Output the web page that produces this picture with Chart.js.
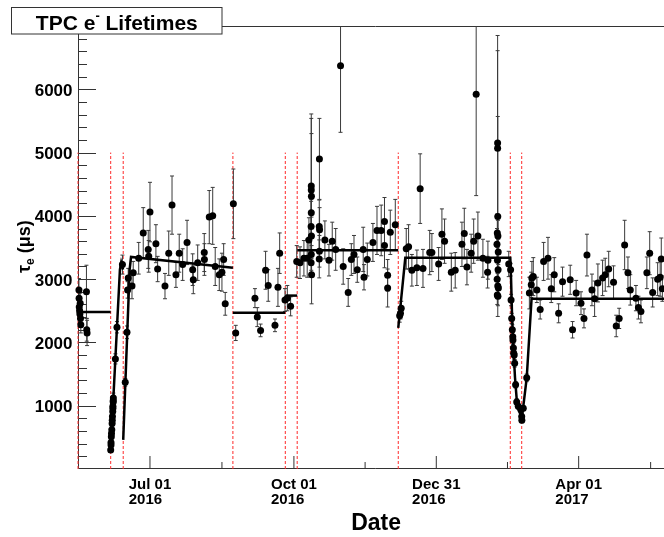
<!DOCTYPE html>
<html>
<head>
<meta charset="utf-8">
<title>TPC electron lifetimes</title>
<script src="https://cdn.jsdelivr.net/npm/chart.js@4.4.1/dist/chart.umd.min.js"></script>
<style>
  html, body { margin: 0; padding: 0; background: #fff; overflow: hidden; }
  #wrap { width: 664px; height: 537px; overflow: hidden; }
  #wrap canvas { display: block; }
</style>
</head>
<body>
<div id="wrap"><canvas id="lifetimeChart" width="700" height="537"></canvas></div>
<script>
// x values are days counted from Jul 01 2016
const tickDays = [0, 92, 183, 274];
const tickLabels = [['Jul 01', '2016'], ['Oct 01', '2016'], ['Dec 31', '2016'], ['Apr 01', '2017']];
const minorTickDays = [46, 137.5, 228.5, 320];
const yMajorTicks = [1000, 2000, 3000, 4000, 5000, 6000];

// purity / run-condition changes (red dashed markers)
const cutDays = [-46, -25.1, -17.1, 53.0, 86.5, 94.1, 158.7, 230.3, 237.6];

// measured electron lifetimes (us) and their errors
const days = [
  // May 2016
  -45.4, -45.3, -45.2, -45.0, -44.8, -44.6, -44.4, -44.2, -40.6, -40.4, -40.2,
  // first recovery ramp
  -25.1, -24.9, -24.9, -24.7, -24.6, -24.4, -24.2, -24.1, -24.0, -23.8, -23.7, -23.7, -23.5, -23.4, -23.5, -22.1, -21.1, -17.6,
  // second ramp + summer
  -15.8, -14.7, -14.3, -13.9, -11.5, -10.7, -7.2, -4.3, -1.1, -0.8, 0, 3.8, 4.9, 9.6, 12.0, 14.1, 16.6, 18.7, 20.9, 23.7,
  27.3, 27.7, 30.5, 34.7, 34.8, 37.9, 40.1, 41.7, 44.3, 46.0, 47.1, 48.1, 53.3, 54.8,
  // Aug - Sep
  67.1, 68.6, 70.7, 73.9, 75.6, 79.9, 81.8, 82.9, 86.3, 87.8, 89.9, 93.8,
  // autumn
  95.9, 98.4, 100.5, 101.6,
  103.1, 103.1, 103.2, 103.1, 103.0, 103.2, 103.1, 103.0, 103.3,
  108.3, 108.2, 108.4, 108.3, 108.2,
  111.8, 114.4, 116.5, 118.7, 121.8, 123.5, 126.7, 128.7, 130.4, 132.5, 136.3, 136.8, 138.9, 142.5, 145.1, 147.8,
  149.9, 149.9, 151.9, 151.9, 153.6, 156.8,
  // winter
  159.6, 160.1, 160.6, 163.8, 165.3, 167.4, 170.6, 172.7, 174.5, 178.8, 180.2, 184.5, 186.6, 188.3, 192.6, 195.1,
  199.4, 200.9, 202.6, 205.3, 206.9, 208.5, 209.6, 212.8, 215.8, 216.0,
  222.2, 222.2, 222.3, 222.0, 222.4, 221.8, 222.6, 222.1, 222.5, 221.9, 222.3, 222.7, 222.0, 222.4,
  229.3,
  // Feb 2017 drop
  230.5, 230.8, 231.2, 231.6, 231.9, 232.0, 232.3, 232.5, 232.8, 233.1, 233.7, 234.4, 235.4, 237.0, 237.6, 237.7, 238.6, 240.8,
  // spring 2017
  242.5, 243.7, 244.1, 245.0, 247.3, 249.4, 251.6, 254.4, 256.5, 258.4, 261.2, 263.7, 268.6, 270.1, 272.4, 275.5,
  277.4, 279.3, 282.5, 284.2, 286.3, 289.3, 291.0, 293.2, 296.3, 298.0, 299.9, 303.4, 305.5, 307.0, 310.6, 312.2,
  313.8, 317.6, 319.4, 321.3, 324.5, 326.1, 326.8, 327.5
];

const lifetimes = [
  2830, 2700, 2560, 2500, 2450, 2620, 2380, 2280, 2800, 2200, 2150,
  300, 380, 420, 510, 560, 620, 720, 770, 830, 910, 960, 990, 1060, 1120, 1080, 1740, 2240, 3230,
  1370, 2160, 2830, 3020, 2890, 3100, 3330, 3730, 3470, 3360, 4060, 3560, 3160, 2890, 3410, 4170, 3070, 3410, 3230, 3580,
  3150, 2990, 3260, 3420, 3310, 3980, 4000, 3200, 3070, 3110, 3310, 2610, 4190, 2150,
  2700, 2400, 2190, 3140, 2900, 2270, 2870, 3410, 2670, 2700, 2570, 3280,
  3260, 3330, 3330, 3620,
  4470, 4410, 4310, 4050, 3830, 3680, 3390, 3260, 3070,
  4900, 3830, 3780, 3440, 3320,
  3620, 3300, 3600, 3470, 6370, 3200, 2790, 3310, 3390, 3150, 3470, 3030, 3310, 3580, 3770, 3770,
  3910, 3530, 3060, 2860, 3740, 3860,
  2420, 2460, 2540, 3480, 3510, 3140, 3180, 4430, 3170, 3420, 3420, 3240, 3710, 3600, 3110, 3140,
  3550, 3720, 3190, 3410, 3600, 5920, 3680, 3330, 3110, 3300,
  5150, 5070, 3990, 3730, 3680, 3550, 3430, 3300, 3150, 3000, 2890, 2860, 2750, 2730,
  3240,
  3150, 2670, 2380, 2200, 2090, 2040, 1910, 1830, 1800, 1670, 1330, 1060, 990, 940, 830, 770, 960, 1440,
  2780, 2910, 3020, 3040, 2830, 2520, 3280, 3330, 2850, 3070, 2460, 2960, 2990, 2200, 2780, 2620,
  2380, 3380, 2830, 2690, 2940, 3020, 3070, 3160, 2950, 2260, 2380, 3540, 3100, 2830, 2700, 2550,
  2490, 3100, 3410, 2790, 3000, 3030, 3320, 2850
];

const errors = [
  180, 150, 150, 120, 130, 160, 140, 130, 420, 180, 200,
  40, 40, 40, 50, 50, 50, 60, 60, 60, 70, 70, 70, 80, 80, 80, 80, 90, 150,
  60, 100, 130, 150, 200, 180, 250, 400, 300, 250, 470, 300, 200, 200, 350, 460, 200, 300, 250, 350,
  250, 220, 280, 300, 250, 420, 450, 300, 250, 300, 250, 180, 550, 120,
  150, 150, 100, 300, 250, 100, 300, 320, 180, 200, 150, 250,
  250, 280, 300, 350,
  1140, 1130, 990, 210, 400, 300, 250, 200, 460,
  640, 420, 350, 250, 300,
  300, 250, 300, 330, 1050, 280, 220, 250, 300, 200, 350, 200, 260, 300, 380, 400,
  380, 350, 250, 300, 350, 400,
  100, 90, 110, 320, 350, 250, 280, 550, 300, 350, 300, 260, 400, 350, 300, 280,
  350, 400, 280, 300, 350, 1600, 380, 300, 250, 300,
  1700, 1540, 1580, 300, 250, 250, 200, 200, 180, 150, 200, 150, 150, 150,
  200,
  100, 90, 80, 80, 70, 70, 70, 60, 60, 60, 50, 50, 40, 40, 40, 40, 40, 60,
  250, 200, 260, 300, 200, 150, 300, 330, 220, 270, 150, 230, 230, 130, 200, 180,
  150, 330, 250, 280, 300, 280, 260, 280, 260, 170, 160, 390, 250, 240, 200, 180,
  180, 250, 340, 230, 260, 300, 330, 200
];

// piecewise fits, [day, lifetime]
const fitMay = [[-46, 2480], [-25.1, 2480]];
const fitRamp1 = [[-25.1, 300], [-19.2, 3150], [-18.4, 3260], [-17.2, 3150]];
const fitSummer = [[-17.1, 460], [-13.0, 3150], [-12.1, 3350], [53.0, 3180]];
const fitAug = [[53.0, 2470], [86.5, 2470]];
const fitSep = [[86.5, 2740], [94.1, 2740]];
const fitAutumn = [[94.1, 3455], [158.7, 3455]];
const fitWinter = [[158.7, 2230], [163.2, 3340], [230.3, 3340], [230.8, 3000], [231.4, 2450], [232.2, 1950],
  [233.3, 1450], [234.4, 1100], [235.4, 960], [236.5, 880], [237.6, 800]];
const fitSpring = [[237.6, 780], [240.8, 1440], [243.9, 2690], [334.3, 2690]];

const FONT = '"Liberation Sans", Arial, Helvetica, sans-serif';

const rootFrame = {
  id: 'rootFrame',
  beforeDatasetsDraw(chart) {
    const { ctx, chartArea: a, scales: { x, y } } = chart;
    ctx.save();
    ctx.strokeStyle = '#333';
    ctx.lineWidth = 1;

    // frame: top and left/bottom axes
    ctx.beginPath();
    ctx.moveTo(a.left, a.top + 0.5);
    ctx.lineTo(a.right, a.top + 0.5);
    ctx.moveTo(a.left + 0.5, a.top);
    ctx.lineTo(a.left + 0.5, a.bottom - 0.5);
    ctx.lineTo(a.right, a.bottom - 0.5);
    ctx.stroke();

    // inward tick marks
    ctx.beginPath();
    tickDays.forEach(d => {
      const px = x.getPixelForValue(d);
      ctx.moveTo(px, a.bottom);
      ctx.lineTo(px, a.bottom - 13);
    });
    minorTickDays.forEach(d => {
      const px = x.getPixelForValue(d);
      ctx.moveTo(px, a.bottom);
      ctx.lineTo(px, a.bottom - 7);
    });
    for (let v = 200; v < 7000; v += 200) {
      const py = Math.round(y.getPixelForValue(v)) + 0.5;
      const len = v % 1000 === 0 ? 18 : 9;
      ctx.moveTo(a.left, py);
      ctx.lineTo(a.left + len, py);
    }
    ctx.stroke();

    // red dashed markers from 0 to 5000
    ctx.strokeStyle = '#ff2a2a';
    ctx.setLineDash([3, 2]);
    cutDays.forEach(d => {
      const px = x.getPixelForValue(d);
      ctx.beginPath();
      ctx.moveTo(px, y.getPixelForValue(0));
      ctx.lineTo(px, y.getPixelForValue(5000));
      ctx.stroke();
    });
    ctx.setLineDash([]);

    // error bars
    ctx.beginPath();
    ctx.rect(a.left, a.top, a.right - a.left, a.bottom - a.top);
    ctx.clip();
    ctx.strokeStyle = '#3a3a3a';
    ctx.beginPath();
    days.forEach((d, i) => {
      const px = x.getPixelForValue(d);
      const hi = y.getPixelForValue(lifetimes[i] + errors[i]);
      const lo = y.getPixelForValue(lifetimes[i] - errors[i]);
      ctx.moveTo(px, hi);
      ctx.lineTo(px, lo);
      ctx.moveTo(px - 2, hi);
      ctx.lineTo(px + 2, hi);
      ctx.moveTo(px - 2, lo);
      ctx.lineTo(px + 2, lo);
    });
    ctx.stroke();
    ctx.restore();
  },
  afterDraw(chart) {
    const { ctx, chartArea: a, scales: { x, y } } = chart;
    ctx.save();
    ctx.fillStyle = '#000';

    // y tick labels
    ctx.font = 'bold 17px ' + FONT;
    ctx.textAlign = 'right';
    ctx.textBaseline = 'alphabetic';
    yMajorTicks.forEach(v => {
      ctx.fillText(String(v), a.left - 5.5, y.getPixelForValue(v) + 6.5);
    });

    // x tick labels, two lines left-aligned under the date
    ctx.font = 'bold 15px ' + FONT;
    ctx.textAlign = 'left';
    tickDays.forEach((d, i) => {
      const px = x.getPixelForValue(d);
      const [l1, l2] = tickLabels[i];
      const left = px - ctx.measureText(l1).width / 2;
      ctx.fillText(l1, left, 488.5);
      ctx.fillText(l2, left, 503.5);
    });

    // x axis title
    ctx.font = 'bold 23px ' + FONT;
    ctx.textAlign = 'right';
    ctx.fillText('Date', 401, 530);

    // y axis title, rotated: tau_e (us)
    ctx.save();
    ctx.translate(29.5, 273);
    ctx.rotate(-Math.PI / 2);
    ctx.textAlign = 'left';
    ctx.font = 'bold 18px ' + FONT;
    ctx.fillText('\u03c4', 0, 0);
    let w = ctx.measureText('\u03c4').width;
    ctx.font = 'bold 12px ' + FONT;
    ctx.fillText('e', w, 4);
    w += ctx.measureText('e').width;
    ctx.font = 'bold 18px ' + FONT;
    ctx.fillText(' (\u03bcs)', w, 0);
    ctx.restore();

    // title box
    ctx.fillStyle = '#fff';
    ctx.fillRect(11.5, 7.5, 210.5, 26.5);
    ctx.strokeStyle = '#333';
    ctx.lineWidth = 1;
    ctx.strokeRect(11.5, 7.5, 210.5, 26.5);
    ctx.fillStyle = '#000';
    ctx.textAlign = 'left';
    const big = 'bold 21px ' + FONT, small = 'bold 13px ' + FONT;
    ctx.font = big;
    const w1 = ctx.measureText('TPC e').width;
    const w3 = ctx.measureText(' Lifetimes').width;
    ctx.font = small;
    const w2 = ctx.measureText('-').width;
    let tx = 116.8 - (w1 + w2 + w3) / 2;
    ctx.font = big;
    ctx.fillText('TPC e', tx, 29.5);
    tx += w1;
    ctx.font = small;
    ctx.fillText('-', tx, 19.5);
    tx += w2;
    ctx.font = big;
    ctx.fillText(' Lifetimes', tx, 29.5);
    ctx.restore();
  }
};

const fitStyle = pts => ({
  type: 'line',
  data: pts.map(p => ({ x: p[0], y: p[1] })),
  borderColor: '#000',
  borderWidth: 2.5,
  pointRadius: 0,
  tension: 0,
  fill: false,
  order: 0
});

new Chart(document.getElementById('lifetimeChart'), {
  type: 'scatter',
  data: {
    datasets: [
      fitStyle(fitMay), fitStyle(fitRamp1), fitStyle(fitSummer), fitStyle(fitAug),
      fitStyle(fitSep), fitStyle(fitAutumn), fitStyle(fitWinter), fitStyle(fitSpring),
      {
        label: 'lifetime',
        data: days.map((d, i) => ({ x: d, y: lifetimes[i] })),
        backgroundColor: '#000',
        borderColor: '#000',
        borderWidth: 0,
        pointRadius: 3.5,
        pointHoverRadius: 3.5,
        clip: 6,
        order: 1
      }
    ]
  },
  options: {
    responsive: false,
    animation: false,
    events: [],
    layout: { padding: { left: 78, top: 26, right: 27, bottom: 68 } },
    scales: {
      x: { type: 'linear', display: false, min: -46, max: 334.3 },
      y: { type: 'linear', display: false, min: 0, max: 7000 }
    },
    plugins: {
      legend: { display: false },
      tooltip: { enabled: false }
    }
  },
  plugins: [rootFrame]
});
</script>
</body>
</html>
